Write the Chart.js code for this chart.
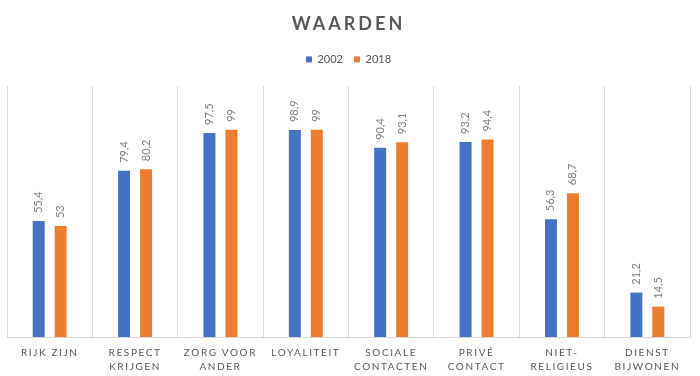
<!DOCTYPE html>
<html><head><meta charset="utf-8">
<script src="https://cdn.jsdelivr.net/npm/chart.js@4"></script>
<style>html,body{margin:0;padding:0;background:#fff}#wrap{width:700px;height:376px}</style>
</head><body><div id="wrap"><canvas id="c"></canvas></div>
<script>
const categories = [['RIJK ZIJN'], ['RESPECT','KRIJGEN'], ['ZORG VOOR','ANDER'], ['LOYALITEIT'], ['SOCIALE','CONTACTEN'], ['PRIVÉ','CONTACT'], ['NIET-','RELIGIEUS'], ['DIENST','BIJWONEN']];
const series2002 = [55.4, 79.4, 97.5, 98.9, 90.4, 93.2, 56.3, 21.2];
const series2018 = [53, 80.2, 99, 99, 93.1, 94.4, 68.7, 14.5];
const seriesNames = ['2002', '2018'];
const FONT = 'Lato, "Open Sans", sans-serif';

const valueLabels = {
  id: 'valueLabels',
  afterDatasetsDraw(chart) {
    const ctx = chart.ctx;
    chart.data.datasets.forEach((ds, di) => {
      const meta = chart.getDatasetMeta(di);
      meta.data.forEach((el, i) => {
        const txt = String(ds.data[i]).replace('.', ',');
        ctx.save();
        ctx.translate(el.x, el.y - 8);
        ctx.rotate(-Math.PI / 2);
        ctx.font = '11px ' + FONT;
        ctx.fillStyle = '#808080';
        ctx.textAlign = 'left';
        ctx.textBaseline = 'middle';
        ctx.fillText(txt, 0, 0);
        ctx.restore();
      });
    });
  }
};

const tweaks = {
  id: 'tweaks',
  beforeUpdate(chart) {
    const lg = chart.legend;
    if (lg && !lg._extra) {
      const of = lg.fit.bind(lg);
      lg.fit = function () { of(); this.height += 11; };
      lg._extra = true;
    }
  },
  beforeDraw(chart) {
    const ctx = chart.ctx;
    const xs = chart.scales.x;
    if (xs && !xs._spaced) {
      const o = xs.drawLabels.bind(xs);
      xs.drawLabels = function (a) { ctx.save(); ctx.letterSpacing = '1.6px'; o(a); ctx.restore(); };
      xs._spaced = true;
    }
    const tb = chart.titleBlock;
    if (tb && !tb._spaced) {
      const o2 = tb.draw.bind(tb);
      tb.draw = function () { ctx.save(); ctx.letterSpacing = '3px'; o2(); ctx.restore(); };
      tb._spaced = true;
    }
  }
};

const chart = new Chart(document.getElementById('c'), {
  type: 'bar',
  data: {
    labels: categories,
    datasets: [
      { label: seriesNames[0], data: series2002, backgroundColor: '#4472C4', categoryPercentage: 0.515, barPercentage: 0.545 },
      { label: seriesNames[1], data: series2018, backgroundColor: '#ED7D31', categoryPercentage: 0.515, barPercentage: 0.545 }
    ]
  },
  options: {
    responsive: true,
    maintainAspectRatio: false,
    animation: false,
    layout: { padding: { left: 7, right: 10, top: 9.5, bottom: -7 } },
    plugins: {
      title: { display: true, text: 'WAARDEN', color: '#595959', font: { family: FONT, size: 18, weight: 'bold', lineHeight: 1.2 }, padding: { top: 4, bottom: 7.8 } },
      legend: { display: true, labels: { boxWidth: 6, boxHeight: 6, padding: 11, color: '#595959', font: { family: FONT, size: 11, lineHeight: 1.2 } } },
      tooltip: { enabled: false }
    },
    scales: {
      x: {
        grid: { display: true, color: '#d9d9d9', offset: true, drawTicks: false },
        border: { display: true, color: '#d9d9d9' },
        ticks: { color: '#595959', font: { family: FONT, size: 10, lineHeight: 1.4 }, padding: 9, autoSkip: false, maxRotation: 0 }
      },
      y: { display: false, min: 0, max: 120 }
    }
  },
  plugins: [tweaks, valueLabels]
});
chart.update();
</script></body></html>
